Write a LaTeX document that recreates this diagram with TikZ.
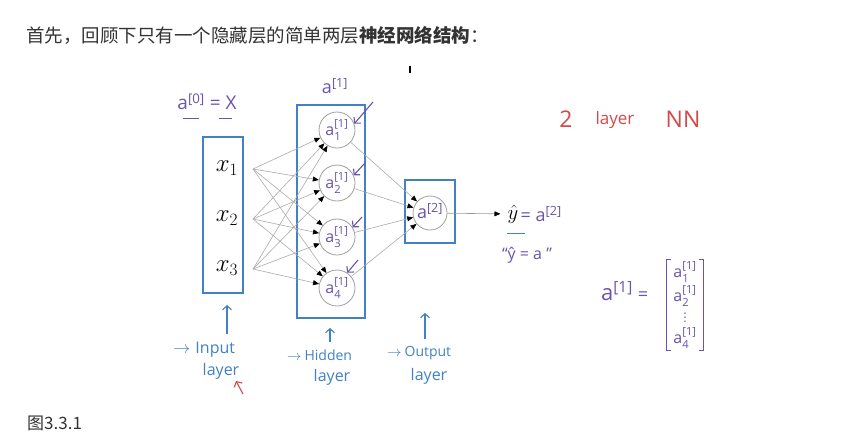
\documentclass[tikz,border=0pt]{standalone}
\usepackage{amsmath}
\usepackage[no-math]{fontspec}
\usepackage{xcolor}
\usepackage{tikz}
\usetikzlibrary{
	arrows.meta,
	positioning,
	fit
}
\newfontfamily\cjk{Noto Sans CJK SC}
\newfontfamily\hand{Open Sans}
\newfontfamily\sym{DejaVu Sans}
\definecolor{boxblue}{RGB}{66,130,196}
\definecolor{penpurple}{RGB}{108,84,172}
\definecolor{penred}{RGB}{214,72,72}
\definecolor{titlegray}{RGB}{51,51,51}
\newcommand{\ha}[2]{$\text{a}^{\text{[#1]}}_{\text{#2}}$}

\begin{document}
\begin{tikzpicture}[x=1pt, y=-1pt,
	bluebox/.style={draw=boxblue, line width=1.3pt, inner sep=0pt},
	neuron/.style={circle, draw=gray!75, line width=0.8pt, minimum size=36pt, inner sep=0pt,
		text=penpurple, font=\hand\fontsize{16}{16}\selectfont},
	link/.style={draw=gray!65, line width=0.6pt, -{Triangle[length=6pt, width=5pt, color=black]}},
	pen/.style={text=penpurple, inner sep=1pt},
	bluepen/.style={text=boxblue, inner sep=1pt},
	handarrow/.style={line width=1.1pt, -{Straight Barb[length=4pt, width=9pt, line width=1.1pt]}}
]
	% 背景与边界
	\fill[white] (0,0) rectangle (857,432);
	\useasboundingbox (0,0) rectangle (857,432);
	% 标题与图注
	\node[anchor=base west, inner sep=0pt, text=titlegray, font=\cjk\fontsize{18.5}{20}\selectfont]
		(title) at (26,42) {首先，回顾下只有一个隐藏层的简单两层\textbf{神经网络结构}：};
	\node[anchor=base west, inner sep=0pt, text=titlegray, font=\cjk\fontsize{17}{18}\selectfont]
		(caption) at (27,429) {图3.3.1};
	% 三层方框
	\node[bluebox, minimum width=40pt, minimum height=156pt] (inbox) at (223,215) {};
	\node[bluebox, minimum width=68pt, minimum height=213pt] (hidbox) at (331,211.5) {};
	\node[bluebox, minimum width=50pt, minimum height=63pt] (outbox) at (430,211.5) {};
	% 输入层
	\foreach \k/\y in {1/168,2/218,3/268} {
		\node[font=\fontsize{23}{23}\selectfont] (x\k) at (227,\y) {$x_{\k}$};
		\coordinate (i\k) at (253,\y+1);
	}
	% 隐藏层
	\foreach \j/\y in {1/130,2/183,3/237,4/288}
	\node[neuron] (h\j) at (337,\y) {\ha{1}{\j}};
	% 输出层
	\node[neuron, minimum size=34pt, font=\hand\fontsize{18}{18}\selectfont] (o) at (430,213) {\ha{2}{}};
	% 连线
	\foreach \k in {1,2,3}
	\foreach \j in {1,...,4}
	\draw[link] (i\k) -- (h\j);
	\foreach \j in {1,...,4}
	\draw[link] (h\j) -- (o);
	% 输出
	\node[font=\fontsize{21}{21}\selectfont, inner sep=1pt] (yhat) at (513,214) {$\hat{y}$};
	\draw[link, draw=gray!80, shorten >=6pt] (o) -- (yhat);
	\node[pen, anchor=west, font=\hand\fontsize{18}{18}\selectfont] (yeq) at (yhat.east) {= $\text{a}^{\text{[2]}}$};
	\draw[boxblue, line width=1pt] (507,233) -- (525,233);
	\node[pen, font=\hand\fontsize{16}{16}\selectfont] (yquote) at (527,255) {“ŷ = a ”};
	% 记号
	\node[pen, font=\hand\fontsize{19}{19}\selectfont] (a0) at (207,102) {$\text{a}^{\text{[0]}}$ = X};
	\draw[penpurple, line width=1pt] (183,118) -- (199,118);
	\draw[penpurple, line width=1pt] (219,118) -- (232,118);
	\node[pen, font=\hand\fontsize{18}{18}\selectfont] (a1top) at (335,86) {$\text{a}^{\text{[1]}}$};
	\draw[line width=1.6pt] (410,66) -- (410,73);
	% 指向神经元的箭头
	\coordinate (p1) at (373,102);
	\coordinate (p2) at (365,163);
	\coordinate (p3) at (362,217);
	\coordinate (p4) at (358,260);
	\draw[penpurple, handarrow] (p1) -- (h1.20);
	\draw[penpurple, handarrow] (p2) -- (h2.25);
	\draw[penpurple, handarrow] (p3) -- (h3.32);
	\draw[penpurple, handarrow] (p4) -- (h4.56);
	% 2 layer NN
	\node[text=penred, anchor=base, font=\hand\fontsize{23}{23}\selectfont] (two) at (566,127) {2};
	\node[text=penred, anchor=base, font=\hand\fontsize{17}{17}\selectfont] (layer) at (615,124) {layer};
	\node[text=penred, anchor=base, font=\hand\fontsize{23}{23}\selectfont] (nn) at (683,127) {NN};
	% 向量
	\node[pen, anchor=base, font=\hand\fontsize{22}{22}\selectfont] (alhs) at (617,300) {$\text{a}^{\text{[1]}}$};
	\node[pen, font=\hand\fontsize{18}{18}\selectfont] (eq) at (643,296) {=};
	\foreach \r/\y in {1/272,2/296,4/338}
	\node[pen, font=\hand\fontsize{16}{16}\selectfont] (m\r) at (685,\y) {\ha{1}{\r}};
	\node[pen, font=\sym\fontsize{12}{12}\selectfont] (mdots) at (685,318) {⋮};
	\node[fit=(m1)(m4), inner xsep=6pt, inner ysep=1pt] (mat) {};
	\draw[penpurple, line width=1pt] ([xshift=5pt]mat.north west) -- (mat.north west)
		-- (mat.south west) -- ([xshift=5pt]mat.south west);
	\draw[penpurple, line width=1pt] ([xshift=-5pt]mat.north east) -- (mat.north east)
		-- (mat.south east) -- ([xshift=-5pt]mat.south east);
	% 层的标注
	\node[bluepen, anchor=base west, font=\hand\fontsize{16}{16}\selectfont] (inl1) at (172,353) {$\rightarrow$\hspace{5pt}Input};
	\node[bluepen, anchor=base, font=\hand\fontsize{16}{16}\selectfont] (inl2) at (221,375) {layer};
	\node[bluepen, anchor=base west, font=\hand\fontsize{14}{14}\selectfont] (hl1) at (286,360) {$\rightarrow$\hspace{3pt}Hidden};
	\node[bluepen, anchor=base, font=\hand\fontsize{16}{16}\selectfont] (hl2) at (332,381) {layer};
	\node[bluepen, anchor=base west, font=\hand\fontsize{14}{14}\selectfont] (ol1) at (386,356) {$\rightarrow$\hspace{3pt}Output};
	\node[bluepen, anchor=base, font=\hand\fontsize{16}{16}\selectfont] (ol2) at (429,380) {layer};
	\coordinate (inup) at (227,305);
	\coordinate (hidup) at (330,328);
	\coordinate (outup) at (425,313);
	\draw[boxblue, handarrow] (inup |- inl1.north) ++(0,-6) -- (inup);
	\draw[boxblue, handarrow] (hidup |- hl1.north) ++(0,-6) -- (hidup);
	\draw[boxblue, handarrow] (outup |- ol1.north) ++(0,-6) -- (outup);
	\coordinate (r1) at (243,394);
	\coordinate (r2) at (236,381);
	\draw[penred, handarrow] (r1) -- (r2);
\end{tikzpicture}
\end{document}
